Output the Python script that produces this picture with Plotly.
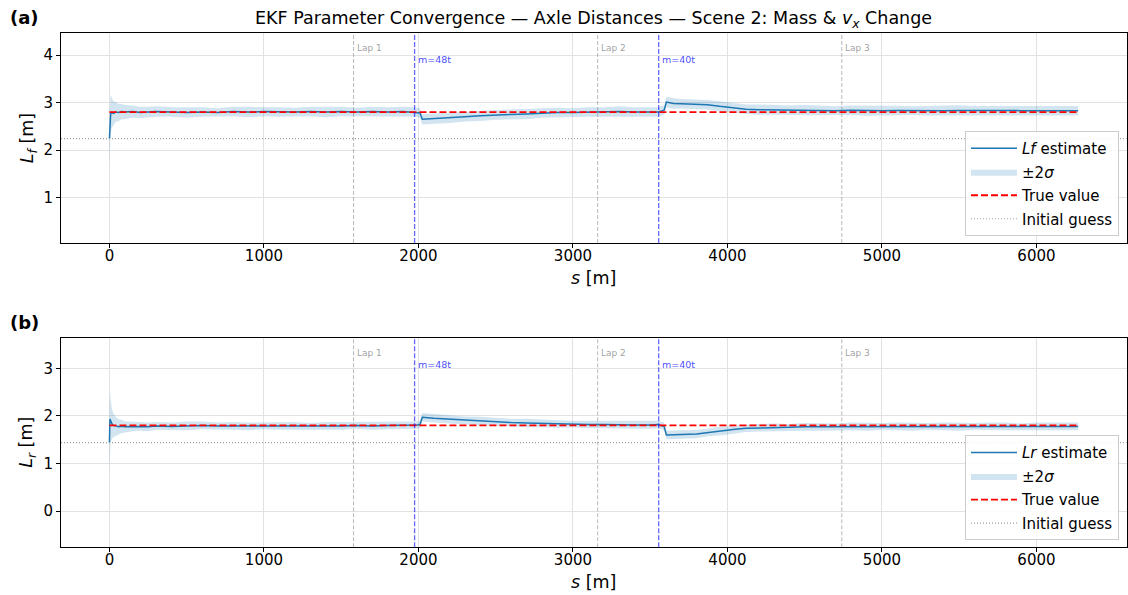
import plotly.graph_objects as go

# ---------------- data ----------------
s = [0, 3, 8, 15, 25, 40, 60, 80, 100,
     150, 200, 250, 300,
     400, 500, 600, 700, 800, 900, 1000, 1100, 1200, 1300, 1400, 1500, 1600, 1700, 1800, 1900,
     1970, 1990, 2010, 2025,
     2100, 2200, 2300, 2400, 2500, 2600, 2700, 2800, 2900, 3000, 3100, 3200, 3300, 3400, 3500,
     3550, 3570, 3590, 3605,
     3650, 3700, 3800, 3870, 3950, 4050, 4120,
     4200, 4300, 4400, 4500, 4600, 4700, 4800, 4900, 5000, 5100, 5200, 5300, 5400, 5500, 5600,
     5700, 5800, 5900, 6000, 6100, 6200,
     6270]

Lf_est = [2.24, 2.62, 2.76, 2.79, 2.77, 2.80, 2.79, 2.81, 2.80,
          2.81, 2.79, 2.80, 2.81,
          2.80, 2.79, 2.80, 2.79, 2.81, 2.80, 2.81, 2.80, 2.80, 2.81, 2.80, 2.81, 2.80, 2.81, 2.80, 2.81,
          2.80, 2.79, 2.78, 2.65,
          2.66, 2.68, 2.70, 2.72, 2.74, 2.75, 2.76, 2.78, 2.79, 2.79, 2.80, 2.80, 2.81, 2.80, 2.81,
          2.80, 2.82, 2.84, 3.01,
          2.98, 2.975, 2.97, 2.955, 2.92, 2.88, 2.86,
          2.85, 2.845, 2.84, 2.84, 2.835, 2.83, 2.84, 2.83, 2.83, 2.835, 2.83, 2.83, 2.83, 2.835, 2.83,
          2.83, 2.83, 2.83, 2.83, 2.835, 2.83,
          2.83]

Lf_2sig = [0.55, 0.50, 0.40, 0.32, 0.26, 0.21, 0.18, 0.16, 0.15,
           0.13, 0.12, 0.11, 0.11,
           0.10, 0.11, 0.10, 0.09, 0.10, 0.11, 0.10, 0.10, 0.09, 0.10, 0.11, 0.10, 0.09, 0.10, 0.10, 0.10,
           0.10, 0.10, 0.10, 0.11,
           0.11, 0.11, 0.10, 0.11, 0.10, 0.10, 0.11, 0.10, 0.10, 0.09, 0.10, 0.10, 0.11, 0.10, 0.10,
           0.10, 0.10, 0.10, 0.11,
           0.11, 0.10, 0.10, 0.10, 0.11, 0.10, 0.10,
           0.11, 0.10, 0.10, 0.11, 0.10, 0.09, 0.10, 0.11, 0.10, 0.10, 0.09, 0.10, 0.10, 0.11, 0.10,
           0.10, 0.09, 0.10, 0.10, 0.10, 0.10,
           0.10]

Lr_est = [1.44, 1.93, 1.90, 1.84, 1.80, 1.78, 1.77, 1.78, 1.77,
          1.78, 1.78, 1.77, 1.79,
          1.78, 1.79, 1.80, 1.79, 1.79, 1.78, 1.79, 1.79, 1.79, 1.78, 1.79, 1.79, 1.80, 1.79, 1.80, 1.80,
          1.80, 1.81, 1.82, 1.97,
          1.95, 1.93, 1.91, 1.89, 1.88, 1.86, 1.85, 1.84, 1.83, 1.83, 1.82, 1.82, 1.81, 1.81, 1.81,
          1.82, 1.80, 1.78, 1.60,
          1.61, 1.61, 1.62, 1.65, 1.68, 1.72, 1.74,
          1.75, 1.76, 1.76, 1.77, 1.77, 1.77, 1.78, 1.77, 1.78, 1.78, 1.77, 1.78, 1.78, 1.77, 1.78,
          1.78, 1.78, 1.77, 1.78, 1.78, 1.78,
          1.78]

Lr_2sig = [0.60, 0.60, 0.45, 0.33, 0.25, 0.20, 0.16, 0.14, 0.12,
           0.10, 0.09, 0.09, 0.08,
           0.08, 0.09, 0.08, 0.07, 0.08, 0.08, 0.07, 0.08, 0.08, 0.07, 0.08, 0.08, 0.07, 0.08, 0.08, 0.08,
           0.08, 0.08, 0.08, 0.09,
           0.09, 0.09, 0.08, 0.09, 0.08, 0.08, 0.09, 0.08, 0.08, 0.07, 0.08, 0.08, 0.08, 0.08, 0.08,
           0.08, 0.08, 0.08, 0.09,
           0.09, 0.09, 0.09, 0.08, 0.09, 0.08, 0.08,
           0.08, 0.08, 0.07, 0.08, 0.08, 0.07, 0.08, 0.08, 0.07, 0.08, 0.08, 0.07, 0.08, 0.08, 0.07,
           0.08, 0.08, 0.07, 0.08, 0.08, 0.08,
           0.08]

Lf_true = 2.80
Lr_true = 1.80
Lf_init = 2.24
Lr_init = 1.44

lap_s = [1580, 3160, 4740]
lap_labels = ["Lap 1", "Lap 2", "Lap 3"]
mass_s = [1975, 3555]
mass_labels = ["m=48t", "m=40t"]

x_ticks = [0, 1000, 2000, 3000, 4000, 5000, 6000]
x_range = [-313.5, 6583.5]
panels = [
    dict(name="Lf", est=Lf_est, sig=Lf_2sig, true=Lf_true, init=Lf_init,
         yrange=[0.04, 4.46], yticks=[1, 2, 3, 4],
         ytitle="<i>L</i><sub><i>f</i></sub> [m]", tag="(a)"),
    dict(name="Lr", est=Lr_est, sig=Lr_2sig, true=Lr_true, init=Lr_init,
         yrange=[-0.76, 3.63], yticks=[0, 1, 2, 3],
         ytitle="<i>L</i><sub><i>r</i></sub> [m]", tag="(b)"),
]

# ---------------- layout geometry (pixels) ----------------
W, H = 1128, 595
px_left, px_right = 61.0, 1126.6
panel_px = [(33.3, 243.0), (338.3, 547.3)]

BLUE = "#1f77b4"
fig = go.Figure()

for i, p in enumerate(panels):
    k = "" if i == 0 else str(i + 1)
    xa, ya = "x" + k, "y" + k
    leg = "legend" + k
    upper = [e + d for e, d in zip(p["est"], p["sig"])]
    lower = [e - d for e, d in zip(p["est"], p["sig"])]
    fig.add_trace(go.Scatter(x=s, y=upper, mode="lines", line=dict(width=0),
                             showlegend=False, hoverinfo="skip", xaxis=xa, yaxis=ya,
                             legend=leg, legendgroup="band" + k))
    fig.add_trace(go.Scatter(x=s, y=lower, mode="lines", line=dict(width=0),
                             fill="tonexty", fillcolor="rgba(31,119,180,0.2)",
                             name="±2<i>σ</i>", legendrank=2, xaxis=xa, yaxis=ya,
                             legend=leg, legendgroup="band" + k))
    fig.add_trace(go.Scatter(x=s, y=p["est"], mode="lines",
                             line=dict(color=BLUE, width=1.5),
                             name="<i>%s</i> estimate" % p["name"], legendrank=1,
                             xaxis=xa, yaxis=ya, legend=leg, legendgroup="est" + k))
    fig.add_trace(go.Scatter(x=[s[0], s[-1]], y=[p["true"], p["true"]], mode="lines",
                             line=dict(color="red", width=1.8, dash="7px,3px"),
                             name="True value", legendrank=3,
                             xaxis=xa, yaxis=ya, legend=leg, legendgroup="true" + k))
    # legend entry for the initial guess (line itself is a full-width shape)
    fig.add_trace(go.Scatter(x=[None], y=[None], mode="lines",
                             line=dict(color="#a0a0a0", width=1.2, dash="1px,2px"),
                             name="Initial guess", legendrank=4,
                             xaxis=xa, yaxis=ya, legend=leg, legendgroup="init" + k))
    fig.add_shape(type="line", xref=xa + " domain", yref=ya, x0=0, x1=1,
                  y0=p["init"], y1=p["init"],
                  line=dict(color="#a0a0a0", width=1.2, dash="1px,2px"), layer="above")

    for ls, lt in zip(lap_s, lap_labels):
        fig.add_shape(type="line", xref=xa, yref=ya + " domain", x0=ls, x1=ls, y0=0, y1=1,
                      line=dict(color="rgba(128,128,128,0.55)", width=1, dash="4px,2px"),
                      layer="above")
        fig.add_annotation(x=ls, y=0.928, xref=xa, yref=ya + " domain", text=lt,
                           showarrow=False, xanchor="left", yanchor="middle", xshift=1,
                           font=dict(size=9, color="rgba(128,128,128,0.75)"))
    for ms, mt in zip(mass_s, mass_labels):
        fig.add_shape(type="line", xref=xa, yref=ya + " domain", x0=ms, x1=ms, y0=0, y1=1,
                      line=dict(color="rgba(0,0,255,0.6)", width=1.3, dash="5px,2px"),
                      layer="above")
        fig.add_annotation(x=ms, y=0.874, xref=xa, yref=ya + " domain", text=mt,
                           showarrow=False, xanchor="left", yanchor="middle", xshift=1,
                           font=dict(size=9.5, color="rgba(40,40,255,0.85)"))

    top_px, bot_px = panel_px[i]
    ydom = [1 - bot_px / H, 1 - top_px / H]
    axis_common = dict(showline=True, mirror=True, linecolor="black", linewidth=1,
                       ticks="outside", ticklen=4, tickcolor="black",
                       showgrid=True, gridcolor="#e2e2e2", gridwidth=1,
                       zeroline=False, automargin=False,
                       tickfont=dict(size=15, color="black"))
    fig.update_layout({
        "xaxis" + k: dict(domain=[px_left / W, px_right / W], range=x_range,
                          tickvals=x_ticks, anchor=ya, ticklabelstandoff=-5, **axis_common),
        "yaxis" + k: dict(domain=ydom, range=p["yrange"], tickvals=p["yticks"],
                          anchor=xa, **axis_common),
        leg: dict(x=1119 / W, y=1 - (bot_px - 7) / H, xanchor="right", yanchor="bottom",
                  bgcolor="rgba(255,255,255,0.85)", bordercolor="#cccccc", borderwidth=1,
                  font=dict(size=15, color="black"), tracegroupgap=1, itemwidth=46,
                  traceorder="grouped"),
    })
    # axis titles
    fig.add_annotation(x=28 / W, y=1 - (top_px + bot_px) / 2 / H, xref="paper", yref="paper",
                       text=p["ytitle"], textangle=-90, showarrow=False,
                       xanchor="center", yanchor="middle", font=dict(size=17.5))
    fig.add_annotation(x=(px_left + px_right) / 2 / W, y=1 - (bot_px + 35) / H,
                       xref="paper", yref="paper", text="<i>s</i> [m]", showarrow=False,
                       xanchor="center", yanchor="middle", font=dict(size=17.5))
    # panel tag
    fig.add_annotation(x=24 / W, y=1 - (top_px - 16) / H, xref="paper", yref="paper",
                       text="<b>%s</b>" % p["tag"], showarrow=False,
                       xanchor="center", yanchor="middle", font=dict(size=18))

fig.add_annotation(x=(px_left + px_right) / 2 / W, y=1 - 20 / H, xref="paper", yref="paper",
                   text="EKF Parameter Convergence — Axle Distances — Scene 2: Mass & "
                        "<i>v</i><sub><i>x</i></sub> Change",
                   showarrow=False, xanchor="center", yanchor="middle",
                   font=dict(size=17.5))

fig.update_layout(width=W, height=H, margin=dict(l=0, r=0, t=0, b=0),
                  plot_bgcolor="white", paper_bgcolor="white",
                  font=dict(family="DejaVu Sans", size=15, color="black"))

fig.write_html("out.html")
